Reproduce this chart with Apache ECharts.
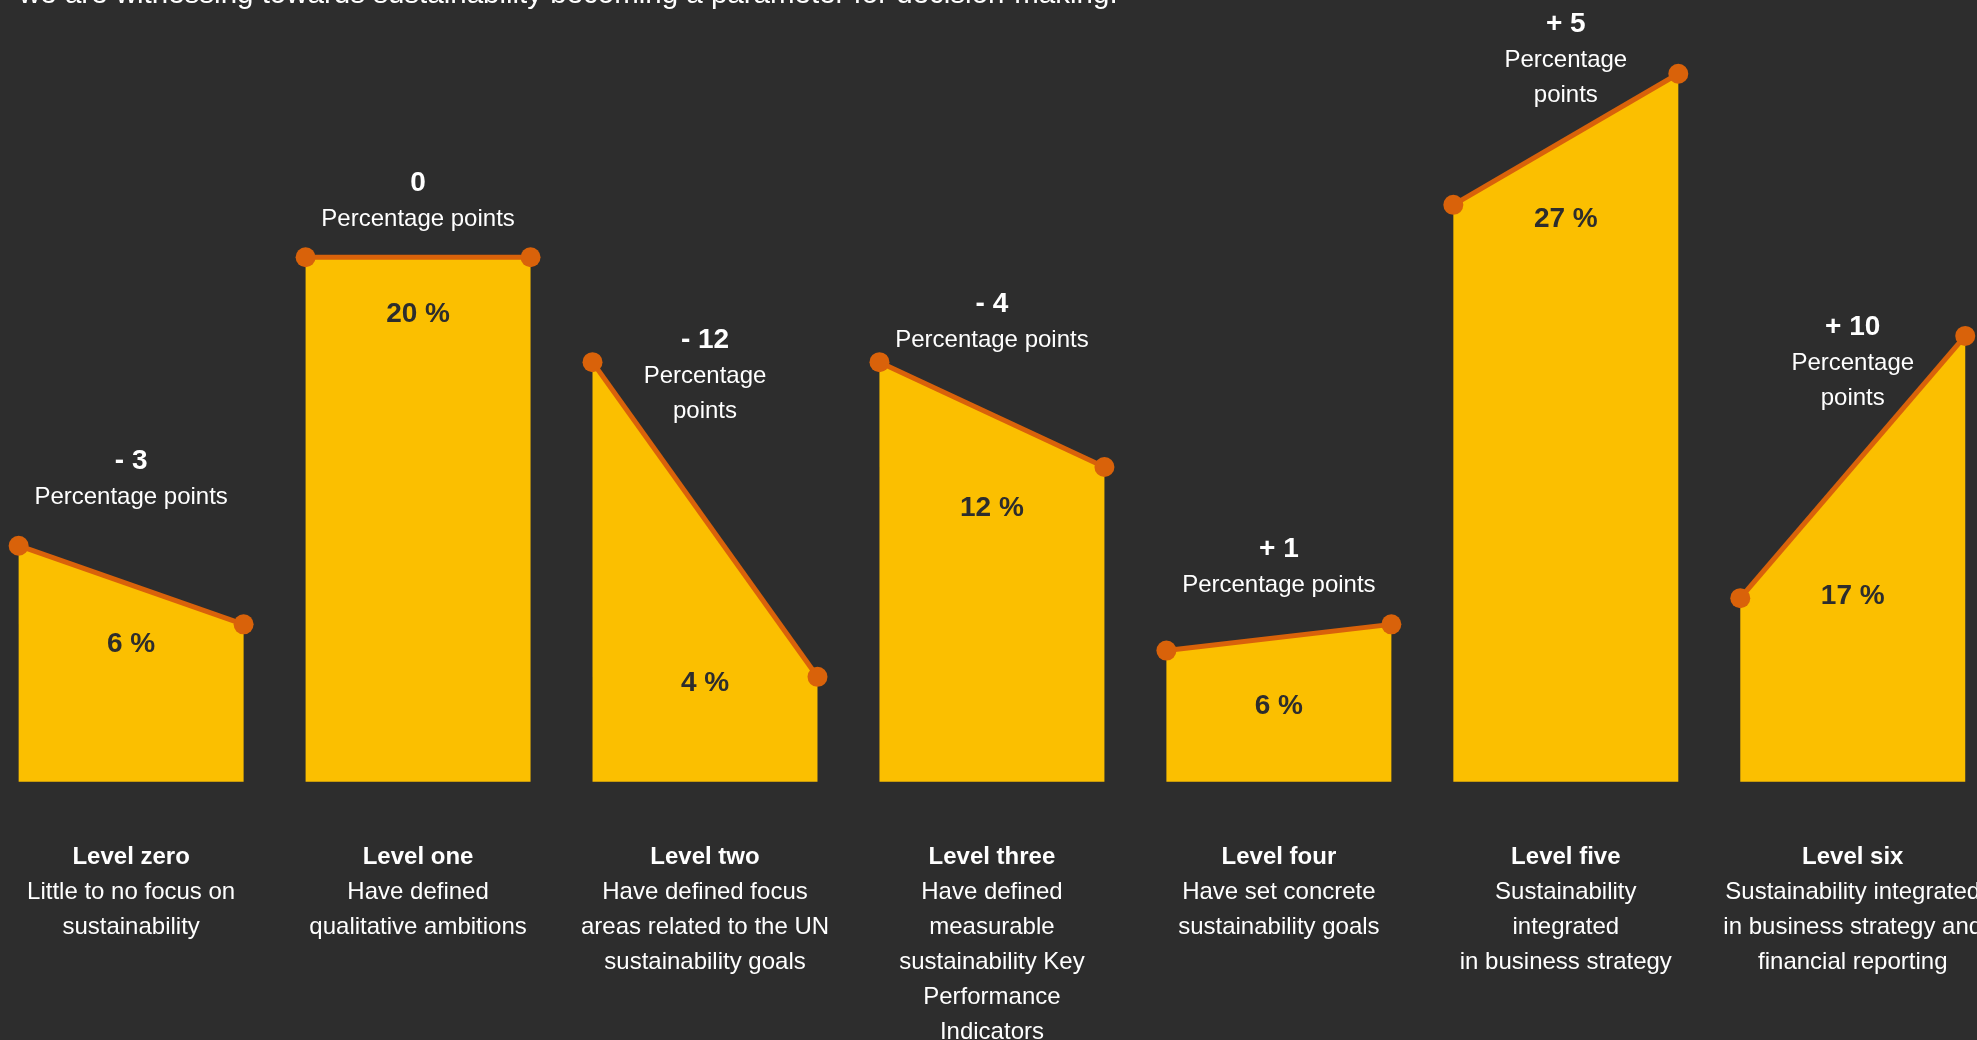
<!DOCTYPE html>
<html>
<head>
<meta charset="utf-8">
<script src="https://cdn.jsdelivr.net/npm/echarts@6/dist/echarts.min.js"></script>
<style>
  html, body { margin: 0; padding: 0; background: #2d2d2d; }
  #chart { width: 1977px; height: 1040px; }
</style>
</head>
<body>
<div id="chart"></div>
<script>
// ---------- data ----------
const levels = ['Level zero', 'Level one', 'Level two', 'Level three', 'Level four', 'Level five', 'Level six'];
const descriptions = [
  'Little to no focus on\nsustainability',
  'Have defined\nqualitative ambitions',
  'Have defined focus\nareas related to the UN\nsustainability goals',
  'Have defined\nmeasurable\nsustainability Key\nPerformance\nIndicators',
  'Have set concrete\nsustainability goals',
  'Sustainability\nintegrated\nin business strategy',
  'Sustainability integrated\nin business strategy and\nfinancial reporting'
];
const previousShare = [9, 20, 16, 16, 5, 22, 7];   // % previous survey
const currentShare  = [6, 20, 4, 12, 6, 27, 17];   // % current survey
const unitText = 'Percentage points';
const introText = 'we are witnessing towards sustainability becoming a parameter for decision-making.';

// ---------- layout (pixels / styling, not data) ----------
const HALF = 0.392;                 // half width of each shape in x-units
const changeLabelY = [461, 183, 340, 304, 549, 24, 327];
const unitWrapped  = [false, false, true, false, false, true, true];
const insideLabelY = [644, 314, 683, 508, 706, 219, 596];
const bottomTitleY = 857;
const LINE_H = 35;
const YELLOW = '#fbbf00';
const ORANGE = '#d9620a';
const BG = '#2d2d2d';
const FONT = "'Liberation Sans', Arial, Helvetica, sans-serif";

const chart = echarts.init(document.getElementById('chart'));

const fmtChange = d => d > 0 ? '+ ' + d : (d < 0 ? '- ' + Math.abs(d) : '0');

chart.setOption({
  backgroundColor: BG,
  animation: false,
  grid: { left: 0, right: 0, top: 47.5, bottom: 258.3 },
  xAxis: { type: 'value', min: -0.457, max: 6.433, show: false },
  yAxis: { type: 'value', min: 0, max: 28, show: false },
  series: levels.map((name, i) => ({
    type: 'line',
    name: name,
    silent: true,
    data: [[i - HALF, previousShare[i]], [i + HALF, currentShare[i]]],
    symbol: 'circle',
    symbolSize: 20,
    showAllSymbol: true,
    lineStyle: { color: ORANGE, width: 5 },
    itemStyle: { color: ORANGE },
    areaStyle: { color: YELLOW, opacity: 1 },
    z: 2
  }))
});

const graphics = [];
graphics.push({
  type: 'text', z: 100, silent: true,
  style: { text: introText, x: 19, y: -5.5, fill: '#ffffff', font: '29.5px ' + FONT, align: 'left', verticalAlign: 'middle' }
});

levels.forEach((name, i) => {
  const cx = chart.convertToPixel({ xAxisIndex: 0 }, i);
  const change = currentShare[i] - previousShare[i];
  // change value
  graphics.push({
    type: 'text', z: 100, silent: true,
    style: { text: fmtChange(change), x: cx, y: changeLabelY[i], fill: '#ffffff',
      font: 'bold 28px ' + FONT, align: 'center', verticalAlign: 'middle' }
  });
  graphics.push({
    type: 'text', z: 100, silent: true,
    style: { text: unitWrapped[i] ? unitText.replace(' ', '\n') : unitText,
      x: cx, y: changeLabelY[i] + 36 - LINE_H / 2, fill: '#ffffff',
      font: '24px ' + FONT, lineHeight: LINE_H, align: 'center', verticalAlign: 'top' }
  });
  // current share inside
  graphics.push({
    type: 'text', z: 100, silent: true,
    style: { text: currentShare[i] + ' %', x: cx, y: insideLabelY[i], fill: BG,
      font: 'bold 28px ' + FONT, align: 'center', verticalAlign: 'middle' }
  });
  // bottom title and description
  graphics.push({
    type: 'text', z: 100, silent: true,
    style: { text: name, x: cx, y: bottomTitleY, fill: '#ffffff',
      font: 'bold 24px ' + FONT, align: 'center', verticalAlign: 'middle' }
  });
  graphics.push({
    type: 'text', z: 100, silent: true,
    style: { text: descriptions[i], x: cx, y: bottomTitleY + LINE_H / 2, fill: '#ffffff',
      font: '24px ' + FONT, lineHeight: LINE_H, align: 'center', verticalAlign: 'top' }
  });
});

chart.setOption({ graphic: graphics });
</script>
</body>
</html>
